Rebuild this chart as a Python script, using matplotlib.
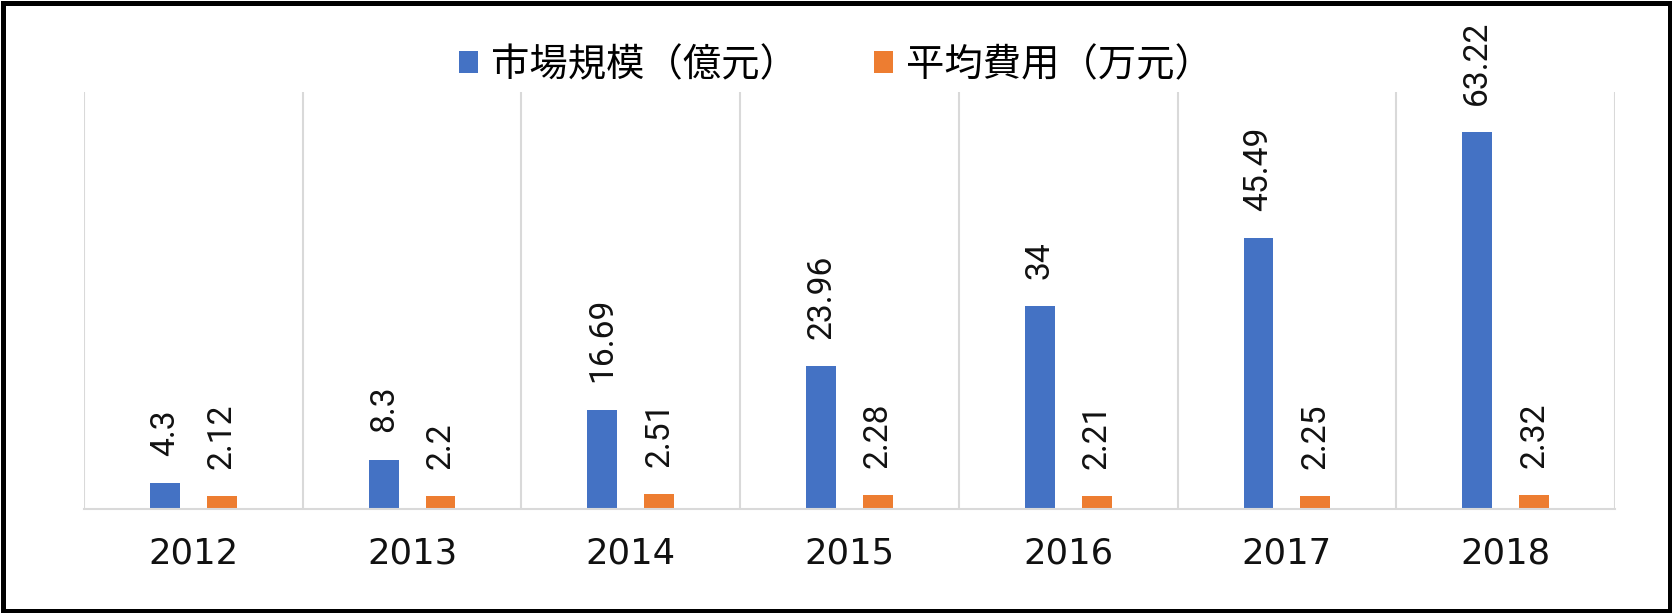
import matplotlib
matplotlib.use("Agg")
import matplotlib.pyplot as plt
from matplotlib.patches import Rectangle, Patch
import numpy as np

years = ["2012", "2013", "2014", "2015", "2016", "2017", "2018"]
market_size = [4.3, 8.3, 16.69, 23.96, 34, 45.49, 63.22]
avg_cost = [2.12, 2.2, 2.51, 2.28, 2.21, 2.25, 2.32]
series_names = ["市場規模（億元）", "平均費用（万元）"]
colors = ["#4472C4", "#ED7D31"]
label_texts_market = ["4.3", "8.3", "16.69", "23.96", "34", "45.49", "63.22"]
label_texts_cost = ["2.12", "2.2", "2.51", "2.28", "2.21", "2.25", "2.32"]

W, H = 1672, 613
fig = plt.figure(figsize=(W / 100, H / 100), dpi=100)
ax = fig.add_axes([84 / W, 1 - 509 / H, (1615 - 84) / W, (509 - 92) / H])

x = np.arange(len(years))
bw = 0.137
off = 0.13
b1 = ax.bar(x - off, market_size, bw, color=colors[0], zorder=3)
b2 = ax.bar(x + off, avg_cost, bw, color=colors[1], zorder=3)

lab_font = dict(family=["Roboto", "DejaVu Sans"], fontsize=24.2, color="#111111")
for bars, texts in ((b1, label_texts_market), (b2, label_texts_cost)):
    for rect, t in zip(bars, texts):
        ax.annotate(t, (rect.get_x() + rect.get_width() / 2, rect.get_height()),
                    xytext=(0, 19.5), textcoords="offset points",
                    rotation=90, ha="center", va="bottom", **lab_font)

ax.set_xlim(-0.5, len(years) - 0.5)
ax.set_ylim(0, 70)
for b in np.arange(-0.5, len(years), 1.0):
    ax.axvline(b, color="#D9D9D9", linewidth=1.5, zorder=1)

for s in ["top", "left", "right"]:
    ax.spines[s].set_visible(False)
ax.spines["bottom"].set_color("#D9D9D9")
ax.spines["bottom"].set_linewidth(1.5)
ax.spines["bottom"].set_zorder(4)
ax.set_yticks([])
ax.set_xticks(x)
ax.set_xticklabels(years, family=["DejaVu Sans"], fontsize=25.5, color="#111111")
ax.tick_params(axis="x", length=0, pad=20)

handles = [Patch(facecolor=c, edgecolor="none") for c in colors]
fig.legend(handles, series_names, loc="center", bbox_to_anchor=(0.5, 1 - 65.5 / H),
           ncol=2, frameon=False, prop={"family": ["Noto Sans CJK JP", "DejaVu Sans"], "size": 27.6},
           handlelength=0.5, handleheight=0.5, handletextpad=0.32, columnspacing=2.0,
           borderaxespad=0, borderpad=0)

fig.patches.append(Rectangle((2.5 / W, 2.5 / H), 1 - 5 / W, 1 - 5 / H, transform=fig.transFigure,
                             fill=False, edgecolor="black", linewidth=3.6, zorder=10))

fig.savefig("out.png", dpi=100, facecolor="white")
